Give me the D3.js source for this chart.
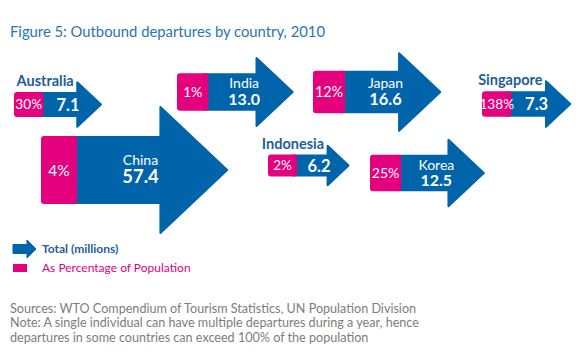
<!DOCTYPE html>
<html><head><meta charset="utf-8">
<script src="https://cdn.jsdelivr.net/npm/d3@7"></script>
<style>body{margin:0;background:#fff} svg{display:block}</style>
</head><body>
<svg id="c" width="578" height="357"></svg>
<script>
// ---- data ----
const countries = ["Australia","China","India","Japan","Singapore","Indonesia","Korea"];
const totals = [7.1, 57.4, 13.0, 16.6, 7.3, 6.2, 12.5];          // millions of departures
const pctPopulation = [30, 4, 1, 12, 138, 2, 25];                  // % of population
const titleText = "Figure 5: Outbound departures by country, 2010";
const legendLabels = ["Total (millions)", "As Percentage of Population"];
const sourceLines = [
  "Sources: WTO Compendium of Tourism Statistics, UN Population Division",
  "Note: A single individual can have multiple departures during a year, hence",
  "departures in some countries can exceed 100% of the population"
];
// ---- layout anchors (left edge, vertical centre) ----
const anchorX = [14, 41, 177, 313, 482, 268, 370];
const anchorY = [104.5, 170, 92, 92, 104, 165.5, 173];

const BLUE = "#0064aa", PINK = "#e5007d", LABEL = "#1d5e9b", TITLE = "#2a74b0", GREY = "#7d7d7d";
const FONT = "Lato, 'Open Sans', sans-serif";

const svg = d3.select("#c");
svg.append("rect").attr("width",578).attr("height",357).attr("fill","#fff");

svg.append("text").attr("x",10).attr("y",37).attr("fill",TITLE)
  .style("font-family",FONT).style("font-size","14.8px").text(titleText);

// scales: arrow thickness from total
const hScale = d3.scaleLog().domain(d3.extent(totals)).range([22, 68]);
const pinkW = d3.scaleLinear().domain([22, 68]).range([29, 36]);

function arrowPath(x0, cy, h, hs, H, tip) {
  const p = d3.path();
  p.moveTo(x0, cy - h/2); p.lineTo(hs, cy - h/2); p.lineTo(hs, cy - H/2);
  p.lineTo(tip, cy); p.lineTo(hs, cy + H/2); p.lineTo(hs, cy + h/2);
  p.lineTo(x0, cy + h/2); p.closePath();
  return p.toString();
}

const data = countries.map((c, i) => {
  const v = totals[i];
  const h = hScale(v);
  const x = anchorX[i], cy = anchorY[i];
  const shaftLen = 31 + 1.3 * h;
  const H = 1.88 * h;
  const headLen = 0.53 * H;
  const pw = pinkW(h);
  const vf = 13 + 0.08 * h;
  return {c, v, pct: pctPopulation[i], h, x, cy, hs: x + shaftLen, H, tip: x + shaftLen + headLen, pw, vf, small: v < 10};
});

const g = svg.selectAll("g.arrow").data(data).join("g").attr("class","arrow");

g.append("path")
  .attr("d", d => arrowPath(d.x + d.pw - 4, d.cy, d.h - 2, d.hs, d.H - 2, d.tip - 1))
  .attr("fill", BLUE).attr("stroke", BLUE).attr("stroke-width", 2).attr("stroke-linejoin","round");

g.append("rect")
  .attr("x", d => d.x).attr("y", d => d.cy - d.h/2)
  .attr("width", d => d.pw).attr("height", d => d.h)
  .attr("rx", 3).attr("fill", PINK);

g.append("text")
  .attr("x", d => d.x + d.pw/2)
  .attr("y", d => d.cy + 0.36 * (12.5 + 0.045*d.h))
  .attr("text-anchor","middle").attr("fill","#fff")
  .style("font-family",FONT).style("font-size", d => (12.5 + 0.045*d.h) + "px")
  .text(d => d.pct + "%");

// small arrows: label outside above, value inside
const small = g.filter(d => d.small);
small.append("text")
  .attr("x", d => d.hs - 3.5).attr("y", d => d.cy - d.h/2 - 6)
  .attr("text-anchor","end").attr("fill",LABEL)
  .style("font-family",FONT).style("font-weight","bold").style("font-size","14.5px")
  .text(d => d.c);
small.append("text")
  .attr("x", d => d.x + d.pw + (d.tip - d.x - d.pw) * 0.42)
  .attr("y", d => d.cy + 6)
  .attr("text-anchor","middle").attr("fill","#fff")
  .style("font-family",FONT).style("font-weight","bold").style("font-size","16.5px")
  .text(d => d3.format(".1f")(d.v));

// big arrows: name + value inside
const big = g.filter(d => !d.small);
big.append("text")
  .attr("x", d => d.x + d.pw + (d.tip - d.x - d.pw) * 0.42)
  .attr("y", d => d.cy + 12.5 - 0.72 * d.vf - 4.5)
  .attr("text-anchor","middle").attr("fill","#fff")
  .style("font-family",FONT).style("font-size","14px")
  .text(d => d.c);
big.append("text")
  .attr("x", d => d.x + d.pw + (d.tip - d.x - d.pw) * 0.42)
  .attr("y", d => d.cy + 13)
  .attr("text-anchor","middle").attr("fill","#fff")
  .style("font-family",FONT).style("font-weight","bold")
  .style("font-size", d => d.vf + "px")
  .text(d => d3.format(".1f")(d.v));

// legend
svg.append("path").attr("d", arrowPath(13, 249, 9, 27, 18, 36)).attr("fill", BLUE)
  .attr("stroke",BLUE).attr("stroke-width",1).attr("stroke-linejoin","round");
svg.append("rect").attr("x",13).attr("y",264).attr("width",14).attr("height",8).attr("fill",PINK);
svg.append("text").attr("x",42).attr("y",253).attr("fill",LABEL)
  .style("font-family",FONT).style("font-weight","bold").style("font-size","12px").text(legendLabels[0]);
svg.append("text").attr("x",42).attr("y",272).attr("fill",PINK)
  .style("font-family",FONT).style("font-size","12px").text(legendLabels[1]);

// sources
svg.selectAll("text.src").data(sourceLines).join("text").attr("class","src")
  .attr("x",10).attr("y",(d,i) => 313 + i*14.3).attr("fill",GREY)
  .style("font-family",FONT).style("font-size","12.6px").text(d => d);
</script>
</body></html>
